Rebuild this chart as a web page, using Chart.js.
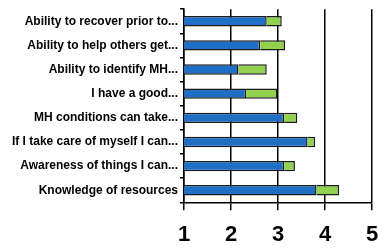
<!DOCTYPE html>
<html>
<head>
<meta charset="utf-8">
<script src="https://cdn.jsdelivr.net/npm/chart.js@4"></script>
<style>
  html, body { margin:0; padding:0; background:#fff; }
  #wrap { width:378px; height:248px; }
</style>
</head>
<body>
<div id="wrap"><canvas id="chart" width="378" height="248"></canvas></div>
<script>
// Data
const categories = [
  'Ability to recover prior to...',
  'Ability to help others get...',
  'Ability to identify MH...',
  'I have a good...',
  'MH conditions can take...',
  'If I take care of myself I can...',
  'Awareness of things I can...',
  'Knowledge of resources'
];
const beforeScores = [2.76, 2.62, 2.16, 2.32, 3.13, 3.63, 3.13, 3.82];
const gainScores = [0.32, 0.53, 0.60, 0.67, 0.28, 0.16, 0.23, 0.48];
const xTicks = [1, 2, 3, 4, 5];

Chart.defaults.font.family = '"Liberation Sans", Arial, sans-serif';
Chart.defaults.color = '#000';

new Chart(document.getElementById('chart'), {
  type: 'bar',
  data: {
    labels: categories,
    datasets: [
      { label: 'Before', data: beforeScores, backgroundColor: '#1f6fc6', borderColor: '#1a1a1a', borderWidth: 1.5 },
      { label: 'Gain', data: gainScores, backgroundColor: '#92d050', borderColor: '#1a1a1a', borderWidth: 1.5 }
    ]
  },
  options: {
    indexAxis: 'y',
    responsive: false,
    animation: false,
    layout: { padding: { top: 8, right: 0, left: 0, bottom: 0 } },
    datasets: { bar: { barPercentage: 0.43, categoryPercentage: 1 } },
    plugins: { legend: { display: false }, tooltip: { enabled: false } },
    scales: {
      x: {
        stacked: true,
        min: 1, max: 5,
        afterBuildTicks: axis => { axis.ticks = xTicks.map(v => ({ value: v })); },
        afterFit: axis => { axis.height = 45.7; axis.paddingRight = 6; },
        grid: { color: '#000', lineWidth: 1.5, tickLength: 8 },
        border: { display: true, color: '#000', width: 1.5 },
        ticks: { padding: 11, font: { size: 22, weight: 'bold' }, color: '#000' }
      },
      y: {
        stacked: true,
        afterFit: axis => { axis.width = 184; },
        grid: { drawOnChartArea: false, color: '#000', lineWidth: 1.5, tickLength: 4, offset: true },
        border: { display: true, color: '#000', width: 1.5 },
        ticks: { padding: 2, font: { size: 12, weight: 'bold' }, color: '#000', autoSkip: false }
      }
    }
  }
});
</script>
</body>
</html>
